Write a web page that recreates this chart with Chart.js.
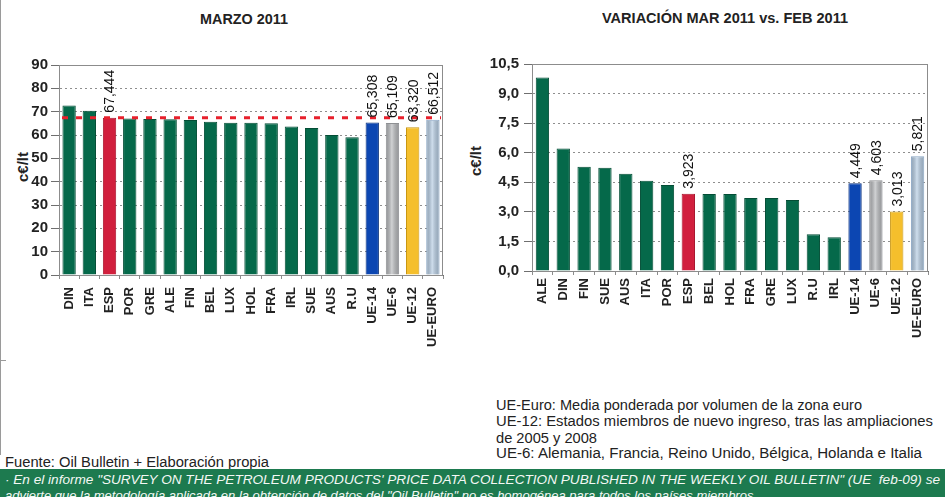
<!DOCTYPE html>
<html>
<head>
<meta charset="utf-8">
<script src="https://cdn.jsdelivr.net/npm/chart.js@4.4.1/dist/chart.umd.min.js"></script>
<style>
  html, body { margin: 0; padding: 0; }
  body { width: 945px; height: 497px; overflow: hidden; background: #fff; position: relative;
         font-family: "Liberation Sans", Arial, Helvetica, sans-serif; color: #222; }
  .t { position: absolute; white-space: nowrap; line-height: 1; transform-origin: 0 0; }
  .title { font-weight: bold; font-size: 14px; color: #222; }
  .note { font-size: 14px; color: #222; }
  .ytitle { position: absolute; font-weight: bold; font-size: 15px; color: #222; white-space: nowrap;
            line-height: 1; transform: translate(-50%, -50%) rotate(-90deg); }
  .band { position: absolute; left: 0; top: 469px; width: 945px; height: 40px; background: #1d7a4f; }
  .bandtxt { font-style: italic; font-size: 13px; color: #f4f8f5; }
  canvas { position: absolute; }
  .frame { position: absolute; background: #9a9a9a; }
</style>
</head>
<body>
  <div class="frame" style="left:0;top:0;width:1px;height:455px"></div>
  <div class="frame" style="left:0;top:360px;width:6px;height:1px"></div>

  <div class="t title" data-w="88" style="left:200px;top:12px">MARZO 2011</div>
  <div class="t title" data-w="246" style="left:602px;top:11px">VARIACIÓN MAR 2011 vs. FEB 2011</div>

  <div class="ytitle" style="left:22px;top:167px">c€/lt</div>
  <div class="ytitle" style="left:475px;top:161px">c€/lt</div>

  <canvas id="marzo" width="470" height="320" style="left:0;top:40px"></canvas>
  <canvas id="variacion" width="475" height="320" style="left:470px;top:40px"></canvas>

  <div class="t note" data-w="366" style="left:496px;top:398px">UE-Euro: Media ponderada por volumen de la zona euro</div>
  <div class="t note" data-w="437" style="left:496px;top:414px">UE-12: Estados miembros de nuevo ingreso, tras las ampliaciones</div>
  <div class="t note" data-w="101" style="left:496px;top:431px">de 2005 y 2008</div>
  <div class="t note" data-w="426" style="left:496px;top:446px">UE-6: Alemania, Francia, Reino Unido, Bélgica, Holanda e Italia</div>
  <div class="t note" data-w="264" style="left:5px;top:455px">Fuente: Oil Bulletin + Elaboración propia</div>

  <div class="band"></div>
  <div class="t bandtxt" data-w="935" style="left:5px;top:473px">· En el informe "SURVEY ON THE PETROLEUM PRODUCTS' PRICE DATA COLLECTION PUBLISHED IN THE WEEKLY OIL BULLETIN" (UE&nbsp; feb-09) se</div>
  <div class="t bandtxt" data-w="752" style="left:5px;top:489px">advierte que la metodología aplicada en la obtención de datos del "Oil Bulletin" no es homogénea para todos los países miembros.</div>

<script>
// ---- Data ----------------------------------------------------------------
const marzoCategories = ['DIN', 'ITA', 'ESP', 'POR', 'GRE', 'ALE', 'FIN', 'BEL', 'LUX', 'HOL',
                         'FRA', 'IRL', 'SUE', 'AUS', 'R.U', 'UE-14', 'UE-6', 'UE-12', 'UE-EURO'];
const marzoValues = [72.6, 70.4, 67.444, 67.1, 66.9, 66.7, 66.4, 65.7, 65.3, 65.3,
                     65.0, 63.6, 63.0, 60.0, 59.0, 65.308, 65.109, 63.320, 66.512];
const marzoTicks = [0, 10, 20, 30, 40, 50, 60, 70, 80, 90];

const variacionCategories = ['ALE', 'DIN', 'FIN', 'SUE', 'AUS', 'ITA', 'POR', 'ESP', 'BEL', 'HOL',
                             'FRA', 'GRE', 'LUX', 'R.U', 'IRL', 'UE-14', 'UE-6', 'UE-12', 'UE-EURO'];
const variacionValues = [9.82, 6.22, 5.29, 5.24, 4.93, 4.58, 4.36, 3.923, 3.90, 3.90,
                         3.70, 3.70, 3.60, 1.86, 1.71, 4.449, 4.603, 3.013, 5.821];
const variacionTicks = [0, 1.5, 3, 4.5, 6, 7.5, 9, 10.5];

// categories whose value is printed above the bar
const labelledCategories = ['ESP', 'UE-14', 'UE-6', 'UE-12', 'UE-EURO'];
// category used for the dashed reference line on the price chart
const referenceCategory = 'ESP';

// ---- Styles --------------------------------------------------------------
const FONT = '"Liberation Sans", Arial, Helvetica, sans-serif';
const barFill = {
  'ESP': '#d11f3d', 'UE-14': '#0c46b2', 'UE-6': '#b8babd', 'UE-12': '#f5bf2c', 'UE-EURO': '#b5cce3'
};
const barEdge = {
  'ESP': '#a8142c', 'UE-14': '#08307e', 'UE-6': '#8e9093', 'UE-12': '#c9960f', 'UE-EURO': '#8aa6c4'
};
const GREEN = '#05694a', GREEN_EDGE = '#034d35';
const shaded = ['UE-6', 'UE-EURO'];

const fmtComma = (v, d) => v.toFixed(d).replace('.', ',');

// fit HTML text lines to their measured widths
document.querySelectorAll('[data-w]').forEach(el => {
  const w = el.getBoundingClientRect().width;
  const target = +el.dataset.w;
  if (w > 0) el.style.transform = 'scaleX(' + (target / w) + ')';
});

// ---- Plugins -------------------------------------------------------------
const plotFrame = {
  id: 'plotFrame',
  beforeDatasetsDraw(chart) {
    const { ctx, chartArea: a } = chart;
    ctx.save();
    ctx.strokeStyle = '#8c8c8c';
    ctx.lineWidth = 1;
    ctx.strokeRect(Math.round(a.left) + 0.5, Math.round(a.top) + 0.5,
                   Math.round(a.right - a.left) - 1, Math.round(a.bottom - a.top));
    ctx.restore();
  }
};

const barSheen = {
  id: 'barSheen',
  afterDatasetsDraw(chart) {
    const { ctx } = chart;
    const meta = chart.getDatasetMeta(0);
    ctx.save();
    chart.data.labels.forEach((lab, i) => {
      if (!shaded.includes(lab)) return;
      const el = meta.data[i];
      const x0 = el.x - el.width / 2, x1 = el.x + el.width / 2;
      const g = ctx.createLinearGradient(x0, 0, x1, 0);
      g.addColorStop(0, 'rgba(0,0,0,0.18)');
      g.addColorStop(0.45, 'rgba(255,255,255,0.35)');
      g.addColorStop(1, 'rgba(0,0,0,0.18)');
      ctx.fillStyle = g;
      ctx.fillRect(x0 + 1, el.y + 1, el.width - 2, el.base - el.y - 1);
    });
    ctx.restore();
  }
};

const referenceLine = {
  id: 'referenceLine',
  afterDatasetsDraw(chart, args, opts) {
    if (!opts || opts.value == null) return;
    const { ctx, chartArea: a, scales: { y } } = chart;
    const py = y.getPixelForValue(opts.value);
    ctx.save();
    ctx.strokeStyle = '#e8202c';
    ctx.lineWidth = 3;
    ctx.setLineDash([6, 8]);
    ctx.beginPath();
    ctx.moveTo(a.left + 3, py);
    ctx.lineTo(a.right - 2, py);
    ctx.stroke();
    ctx.restore();
  }
};

const valueLabels = {
  id: 'valueLabels',
  afterDatasetsDraw(chart, args, opts) {
    const { ctx } = chart;
    const meta = chart.getDatasetMeta(0);
    const data = chart.data.datasets[0].data;
    ctx.save();
    ctx.font = '14px ' + FONT;
    ctx.fillStyle = '#111';
    ctx.textAlign = 'left';
    ctx.textBaseline = 'middle';
    chart.data.labels.forEach((lab, i) => {
      if (!labelledCategories.includes(lab)) return;
      const el = meta.data[i];
      ctx.save();
      ctx.translate(el.x + 1, el.y - 5);
      ctx.rotate(-Math.PI / 2);
      ctx.fillText(fmtComma(data[i], 3), 0, 0);
      ctx.restore();
    });
    ctx.restore();
  }
};

// ---- Chart factory -------------------------------------------------------
function barChart(id, cats, vals, cfg) {
  return new Chart(document.getElementById(id), {
    type: 'bar',
    data: {
      labels: cats,
      datasets: [{
        data: vals,
        backgroundColor: cats.map(c => barFill[c] || GREEN),
        borderColor: cats.map(c => barEdge[c] || GREEN_EDGE),
        borderWidth: 1,
        borderSkipped: 'bottom',
        categoryPercentage: 1,
        barPercentage: cfg.barPct
      }]
    },
    options: {
      responsive: false,
      devicePixelRatio: 1,
      animation: false,
      events: [],
      layout: { padding: cfg.padding },
      plugins: {
        legend: { display: false },
        tooltip: { enabled: false },
        referenceLine: cfg.reference ? { value: cfg.reference } : false
      },
      scales: {
        x: {
          grid: { display: true, drawOnChartArea: false, drawTicks: true, tickLength: 4,
                  color: '#8c8c8c', offset: true },
          border: { display: true, color: '#6f6f6f', width: 1 },
          ticks: { autoSkip: false, minRotation: 90, maxRotation: 90, padding: cfg.xPad,
                   color: '#222', font: { family: FONT, size: 13, weight: 'bold' } },
          afterFit: s => { s.height = cfg.xHeight; }
        },
        y: {
          min: cfg.ticks[0],
          max: cfg.ticks[cfg.ticks.length - 1],
          afterBuildTicks: s => { s.ticks = cfg.ticks.map(v => ({ value: v })); },
          grid: { color: '#8e8e8e', lineWidth: 1, tickLength: 8, tickColor: '#6f6f6f',
                  tickBorderDash: [] },
          border: { display: true, color: '#6f6f6f', dash: [2, 3] },
          ticks: { padding: cfg.yPad, color: '#222', callback: cfg.tickFmt,
                   font: { family: FONT, size: 15, weight: 'bold' } },
          afterFit: s => { s.width = cfg.yWidth; }
        }
      }
    },
    plugins: [plotFrame, barSheen, referenceLine, valueLabels]
  });
}

barChart('marzo', marzoCategories, marzoValues, {
  barPct: 0.66,
  padding: { top: 25, right: 27, left: 0, bottom: 0 },
  xHeight: 85, xPad: 8,
  yWidth: 59, yPad: 3,
  ticks: marzoTicks,
  tickFmt: v => String(v),
  reference: marzoValues[marzoCategories.indexOf(referenceCategory)]
});

barChart('variacion', variacionCategories, variacionValues, {
  barPct: 0.64,
  padding: { top: 24, right: 17, left: 0, bottom: 0 },
  xHeight: 89, xPad: 3,
  yWidth: 62, yPad: 5,
  ticks: variacionTicks,
  tickFmt: v => fmtComma(v, 1),
  reference: null
});
</script>
</body>
</html>
